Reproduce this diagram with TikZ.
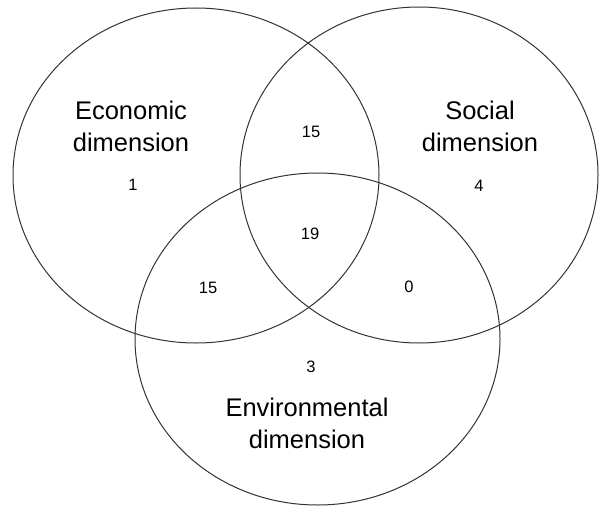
\documentclass[tikz,border=0pt]{standalone}
\usepackage{fontspec}
\setmainfont{Liberation Sans}
\usepackage{tikz}
\usetikzlibrary{positioning,calc}

\begin{document}
\begin{tikzpicture}[x=1pt, y=-1pt,
  setline/.style={draw=black!80, line width=1pt},
  dimlabel/.style={align=center, font=\fontsize{25.5}{32}\selectfont, text=black},
  count/.style={font=\fontsize{16.5}{18}\selectfont, text=black}]
\useasboundingbox (0,0) rectangle (599,508);
% circle centres
\coordinate (eco) at (196,175.5);
\coordinate (soc) at (419,175);
\coordinate (env) at (317.5,339);
% the three sets
\draw[setline] (eco) ellipse [x radius=183, y radius=167.5];
\draw[setline] (soc) ellipse [x radius=179, y radius=168];
\draw[setline] (env) ellipse [x radius=182.5, y radius=166];
% set names
\node[dimlabel] (ecolabel) at (131,126) {Economic\\dimension};
\node[dimlabel] (soclabel) at (480,126) {Social\\dimension};
\node[dimlabel] (envlabel) at (307,423) {Environmental\\dimension};
% counts
\node[count] (onlyeco) at (133,185) {1};
\node[count] (onlysoc) at (479,186) {4};
\node[count] (onlyenv) at (311,367) {3};
\node[count] (ecosoc) at (311,132) {15};
\node[count] (ecoenv) at (208,288) {15};
\node[count] (socenv) at (409,287) {0};
\node[count] (all) at (310,234) {19};
\end{tikzpicture}
\end{document}
